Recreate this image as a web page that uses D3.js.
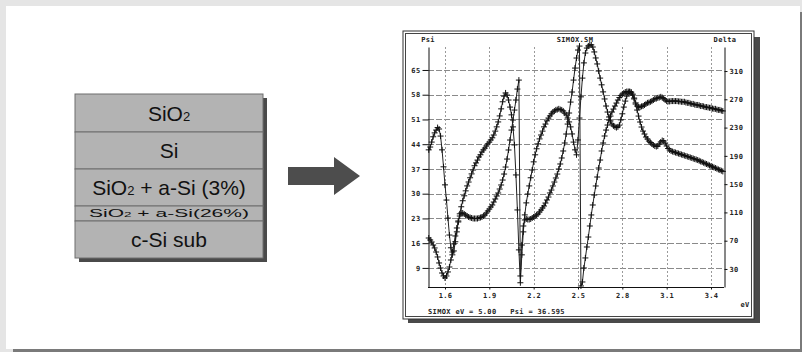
<!DOCTYPE html>
<html>
<head>
<meta charset="utf-8">
<script src="https://cdn.jsdelivr.net/npm/d3@7"></script>
<style>
  body { margin: 0; background: #e5e5e5; }
  svg { display: block; }
  .mono { font-family: "DejaVu Sans Mono", monospace; font-weight: bold; font-size: 7px; letter-spacing: 0.35px; fill: #222; }
</style>
</head>
<body>
<svg id="chart" width="802" height="352"></svg>
<script>
// layer stack (left)
const layerNames = ["SiO2", "Si", "SiO2 + a-Si (3%)", "SiO2 + a-Si(26%)", "c-Si sub"];

// spectrum sampling, eV
const eV = d3.range(149, 349).map(i => i / 100);

// Psi (left axis), one value per eV step
const psi = [
  42.4, 43.2, 44.6, 46.1, 47.2, 48.0, 48.7, 48.3, 46.3, 42.4,
  37.6, 32.5, 28.2, 23.1, 18.3, 14.7, 12.7, 13.8, 16.4, 19.2,
  22.0, 24.3, 26.3, 28.0, 29.4, 30.8, 32.2, 33.3, 34.5, 35.6,
  36.7, 37.9, 38.7, 39.5, 40.4, 41.0, 41.8, 42.4, 42.9, 43.5,
  44.1, 44.6, 45.2, 45.8, 46.6, 47.7, 48.9, 50.3, 52.0, 54.0,
  56.0, 57.6, 58.5, 57.9, 56.5, 54.5, 52.3, 48.9, 43.8, 35.3,
  25.4, 14.1, 4.8, 12.7, 19.2, 24.0, 27.4, 29.9, 32.2, 34.5,
  36.7, 39.0, 41.0, 42.7, 44.1, 45.5, 46.6, 47.7, 48.9, 49.7,
  50.6, 51.4, 52.0, 52.6, 53.1, 53.4, 53.7, 53.8, 54.0, 53.8,
  53.7, 53.4, 52.8, 52.3, 51.4, 50.3, 48.9, 46.9, 44.6, 42.4,
  41.0, 45.2, 51.4, 57.4, 62.7, 67.0, 69.8, 71.2, 71.8, 72.1,
  72.1, 71.5, 70.1, 68.4, 66.7, 64.7, 62.7, 60.8, 58.8, 56.8,
  54.8, 53.1, 51.7, 50.6, 49.7, 49.2, 48.9, 48.7, 48.9, 49.4,
  50.9, 52.6, 54.5, 56.2, 57.6, 58.5, 58.8, 58.5, 57.9, 56.8,
  55.7, 54.8, 54.5, 54.5, 54.7, 54.8, 55.1, 55.4, 55.7, 55.8,
  56.0, 56.2, 56.5, 56.8, 56.9, 57.1, 57.2, 57.4, 57.2, 56.9,
  56.5, 56.2, 56.1, 56.1, 56.2, 56.2, 56.2, 56.2, 56.2, 56.1,
  56.1, 56.0, 56.0, 56.0, 55.8, 55.7, 55.7, 55.5, 55.4, 55.4,
  55.2, 55.1, 55.1, 55.0, 54.8, 54.8, 54.7, 54.5, 54.5, 54.4,
  54.3, 54.3, 54.1, 54.0, 54.0, 53.8, 53.7, 53.7, 53.5, 53.4
];

// Delta (right axis)
const delta = [
  73.8, 71.0, 68.2, 63.9, 59.7, 54.0, 47.0, 38.5, 31.4, 24.3,
  20.1, 17.3, 20.1, 25.8, 32.8, 42.7, 54.0, 65.4, 76.7, 88.0,
  97.9, 104.9, 109.2, 109.2, 107.8, 106.4, 104.9, 103.5, 102.8, 102.1,
  101.4, 101.4, 101.4, 101.4, 102.1, 102.8, 103.5, 104.9, 106.4, 109.2,
  112.0, 114.8, 117.7, 120.5, 124.7, 129.0, 133.2, 137.5, 143.1, 148.8,
  155.8, 164.3, 174.2, 185.5, 198.3, 212.4, 226.5, 240.7, 254.8, 269.0,
  284.5, 297.2, 20.1, 63.9, 90.8, 99.3, 100.7, 100.0, 100.0, 100.7,
  102.1, 103.5, 104.9, 106.4, 107.8, 110.6, 113.4, 116.3, 119.1, 123.3,
  127.6, 131.8, 137.5, 141.7, 147.4, 153.0, 158.7, 164.3, 171.4, 178.5,
  187.0, 196.9, 208.2, 220.9, 235.0, 250.6, 266.1, 280.3, 297.2, 314.2,
  328.4, 339.7, 345.3, 6.0, 11.6, 31.4, 45.6, 61.1, 75.2, 90.8,
  106.4, 120.5, 134.6, 147.4, 160.1, 172.8, 184.1, 196.9, 208.2, 218.1,
  226.5, 233.6, 240.7, 246.3, 252.0, 256.2, 260.5, 264.7, 269.0, 272.5,
  275.3, 277.4, 278.9, 280.3, 281.0, 281.0, 281.0, 280.3, 277.4, 271.8,
  263.3, 254.8, 246.3, 237.9, 230.8, 225.1, 220.9, 216.6, 213.8, 211.0,
  208.9, 206.8, 205.3, 203.9, 203.2, 203.9, 206.8, 209.6, 211.7, 211.0,
  208.2, 203.9, 200.4, 198.3, 196.9, 196.1, 195.4, 194.7, 194.0, 193.3,
  192.6, 191.9, 191.2, 190.5, 189.8, 189.1, 188.4, 187.7, 187.0, 186.2,
  185.5, 184.8, 184.1, 183.1, 182.1, 181.3, 180.3, 179.3, 178.5, 177.5,
  176.5, 175.6, 174.6, 173.7, 172.8, 171.8, 170.8, 170.0, 169.0, 168.0
];

const psiTicks = [9, 16, 23, 30, 37, 44, 51, 58, 65];
const deltaTicks = [30, 70, 110, 150, 190, 230, 270, 310];
const eVTicks = [1.6, 1.9, 2.2, 2.5, 2.8, 3.1, 3.4];

const svg = d3.select("#chart");

// slide background
svg.append("rect").attr("x", 13).attr("y", 12).attr("width", 789).attr("height", 340).attr("fill", "#7a7a7a");
svg.append("rect").attr("x", 6).attr("y", 6).attr("width", 794).attr("height", 343).attr("fill", "#fff");

// ---- layer stack ----
const stack = { x: 75, y: 94, w: 188 };
const rowH = [38, 37, 37, 15, 37];
const rowFont = [21, 21, 21, 11, 21];
const stackH = d3.sum(rowH);

svg.append("rect")
  .attr("x", stack.x + 4).attr("y", stack.y + 4)
  .attr("width", stack.w).attr("height", stackH)
  .attr("fill", "#4a4a4a");

let yy = stack.y;
layerNames.forEach((name, i) => {
  svg.append("rect")
    .attr("x", stack.x).attr("y", yy)
    .attr("width", stack.w).attr("height", rowH[i])
    .attr("fill", "#b3b3b3")
    .attr("stroke", "#6e6e6e").attr("stroke-width", 1);

  const fs = rowFont[i];
  const t = svg.append("text")
    .attr("x", stack.x + stack.w / 2)
    .attr("y", yy + rowH[i] / 2 + fs * 0.36)
    .attr("text-anchor", "middle")
    .style("font-family", "'Liberation Sans', Arial, sans-serif")
    .style("font-size", fs + "px")
    .attr("fill", "#111");
  if (i === 3) t.attr("textLength", 160).attr("lengthAdjust", "spacingAndGlyphs");

  // "O2" -> small 2
  name.split(/(?<=O)2/).forEach((part, k, arr) => {
    t.append("tspan").text(part);
    if (k < arr.length - 1) t.append("tspan").style("font-size", Math.round(fs * 0.62) + "px").text("2");
  });
  yy += rowH[i];
});

// ---- arrow ----
svg.append("path")
  .attr("d", "M288,167H334V157L360,176L334,195V185H288Z")
  .attr("fill", "#4d4d4d");

// ---- chart frame ----
svg.append("rect").attr("x", 408).attr("y", 37).attr("width", 352).attr("height", 286).attr("fill", "#4a4a4a");
svg.append("rect").attr("x", 403).attr("y", 31).attr("width", 351).attr("height", 288)
  .attr("fill", "#fff").attr("stroke", "#333").attr("stroke-width", 1);
svg.append("rect").attr("x", 405.5).attr("y", 33.5).attr("width", 346).attr("height", 283)
  .attr("fill", "none").attr("stroke", "#444").attr("stroke-width", 1);

const margin = { left: 428, right: 724, top: 47, bottom: 287 };

const x = d3.scaleLinear().domain([1.485, 3.488]).range([margin.left, margin.right]);
const yPsi = d3.scaleLinear().domain([3.6, 71.5]).range([margin.bottom, margin.top]);
const yDelta = d3.scaleLinear().domain([4.5, 344]).range([margin.bottom, margin.top]);

// grid
svg.append("g").selectAll("line").data(psiTicks).join("line")
  .attr("x1", margin.left).attr("x2", margin.right)
  .attr("y1", d => Math.round(yPsi(d)) + 0.5).attr("y2", d => Math.round(yPsi(d)) + 0.5)
  .attr("stroke", "#8a8a8a").attr("stroke-dasharray", "6,2");

svg.append("g").selectAll("line").data(eVTicks).join("line")
  .attr("x1", d => Math.round(x(d)) + 0.5).attr("x2", d => Math.round(x(d)) + 0.5)
  .attr("y1", margin.top).attr("y2", margin.bottom)
  .attr("stroke", "#9a9a9a").attr("stroke-dasharray", "2,2");

// axes
const gl = svg.append("g").attr("class", "mono")
  .attr("transform", `translate(${margin.left + 0.5},0)`)
  .call(d3.axisLeft(yPsi).tickValues(psiTicks).tickSize(6).tickSizeOuter(0).tickPadding(2));

const gr = svg.append("g").attr("class", "mono")
  .attr("transform", `translate(${margin.right + 0.5},0)`)
  .call(d3.axisRight(yDelta).tickValues(deltaTicks).tickSize(3).tickSizeOuter(0).tickPadding(2));

const gb = svg.append("g").attr("class", "mono")
  .attr("transform", `translate(0,${margin.bottom + 0.5})`)
  .call(d3.axisBottom(x).tickValues(eVTicks).tickFormat(d3.format(".1f")).tickSize(2).tickSizeOuter(0).tickPadding(4));

[gl, gr, gb].forEach(g => {
  g.attr("font-family", null).attr("font-size", null);
  g.select(".domain").attr("stroke", "#111");
  g.selectAll(".tick line").attr("stroke", "#111");
  g.selectAll(".tick text").attr("fill", "#222");
});
gb.select(".domain").attr("d", `M${margin.left},0H${margin.right}`);

// texts
svg.append("text").attr("class", "mono").attr("x", 428).attr("y", 42).attr("text-anchor", "middle").text("Psi");
svg.append("text").attr("class", "mono").attr("x", 575).attr("y", 42).attr("text-anchor", "middle").text("SIMOX.SM");
svg.append("text").attr("class", "mono").attr("x", 725).attr("y", 42).attr("text-anchor", "middle").text("Delta");
svg.append("text").attr("class", "mono").attr("x", 745).attr("y", 307).attr("text-anchor", "middle").text("eV");
svg.append("text").attr("class", "mono").attr("x", 428).attr("y", 314).attr("xml:space", "preserve")
  .text("SIMOX eV = 5.00   Psi = 36.595");

// curves
const rows = eV.map((e, i) => ({ e, psi: psi[i], delta: delta[i] }));
const plus = "M-3,0H3M0,-3V3";

[["psi", yPsi], ["delta", yDelta]].forEach(([key, y]) => {
  svg.append("path")
    .datum(rows)
    .attr("fill", "none")
    .attr("stroke", "#222")
    .attr("stroke-width", 1)
    .attr("d", d3.line().x(d => x(d.e)).y(d => y(d[key])));

  svg.append("g").selectAll("path").data(rows).join("path")
    .attr("transform", d => `translate(${x(d.e)},${y(d[key])})`)
    .attr("d", plus)
    .attr("stroke", "#111")
    .attr("stroke-width", 1)
    .attr("fill", "none");
});
</script>
</body>
</html>
